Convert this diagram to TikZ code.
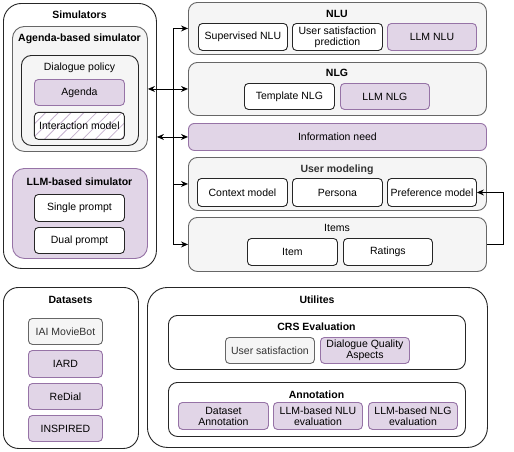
\documentclass[tikz,border=0pt]{standalone}
\usepackage{fontspec}
\setmainfont{Liberation Sans}
\usetikzlibrary{arrows.meta,patterns.meta,calc}
\definecolor{pfill}{HTML}{E1D5E7}
\definecolor{pdraw}{HTML}{9673A6}
\definecolor{gfill}{HTML}{F5F5F5}
\definecolor{gdraw}{HTML}{666666}
\tikzset{
 base/.style={draw, line width=0.9pt, inner sep=0pt, align=center, font=\fontsize{10.5}{12}\selectfont, anchor=north west},
 wbox/.style={base, fill=white, draw=black!85, rounded corners=4pt},
 pbox/.style={base, fill=pfill, draw=pdraw, rounded corners=4pt},
 gbox/.style={base, fill=gfill, draw=gdraw, text=black!80, rounded corners=4pt},
 hbox/.style={base, draw=black!85, rounded corners=4pt, preaction={fill=white},
   pattern={Lines[angle=45,distance=9pt,line width=0.8pt]}, pattern color=pdraw!55},
 title/.style={font=\bfseries\fontsize{10.5}{12}\selectfont, inner sep=0pt},
 arr/.style={line width=0.9pt, -{Stealth[length=7pt,width=6pt]}},
 darr/.style={line width=0.9pt, {Stealth[length=7pt,width=6pt]}-{Stealth[length=7pt,width=6pt]}},
}
\newcommand\bx[7]{\node[#6, minimum width={#4-#2}, minimum height={#5-#3}] (#1) at (#2,#3) {#7};}
\begin{document}
\begin{tikzpicture}[x=1pt,y=-1pt]
\useasboundingbox[fill=white] (0,0) rectangle (514,451);
% Simulators
\bx{sim}{3}{3}{156}{268}{wbox, rounded corners=18pt}{}
\node[title] (simT) at (79.5,15) {Simulators};
\bx{agsim}{12}{26}{147}{151}{gbox, rounded corners=12pt}{}
\node[title] (agsimT) at (79.5,39) {Agenda-based simulator};
\bx{dp}{21}{55}{138}{145}{base, fill=gfill, draw=black!85, rounded corners=10pt}{}
\node[font=\fontsize{10.5}{12}\selectfont, inner sep=0pt] (dpT) at (79.5,68) {Dialogue policy};
\bx{agenda}{34}{79}{124}{105}{pbox}{Agenda}
\bx{inter}{34}{112}{124}{139}{hbox}{Interaction model}
\bx{llmsim}{12}{168}{147}{258}{pbox, rounded corners=12pt}{}
\node[title] (llmsimT) at (79.5,182) {LLM-based simulator};
\bx{single}{34}{194}{124}{221}{wbox}{Single prompt}
\bx{dual}{34}{227}{124}{253}{wbox}{Dual prompt}
% NLU
\bx{nlu}{188}{2}{486}{54}{gbox, rounded corners=9pt}{}
\node[title] (nluT) at (337,14) {NLU};
\bx{supnlu}{198}{23}{287}{50}{wbox}{Supervised NLU}
\bx{usp}{292}{23}{382}{50}{wbox}{User satisfaction\\[-1pt]prediction}
\bx{llmnlu}{387}{23}{476}{50}{pbox}{LLM NLU}
% NLG
\bx{nlg}{188}{62}{486}{115}{gbox, rounded corners=9pt}{}
\node[title] (nlgT) at (337,73) {NLG};
\bx{tnlg}{244}{83}{334}{109}{wbox}{Template NLG}
\bx{llmnlg}{340}{83}{429}{109}{pbox}{LLM NLG}
% Information need
\bx{info}{188}{123}{486}{150}{pbox, rounded corners=6pt}{Information need}
% User modeling
\bx{um}{188}{157}{486}{210}{gbox, rounded corners=9pt}{}
\node[title, text=black!80] (umT) at (337,170) {User modeling};
\bx{ctx}{197}{178}{287}{206}{wbox}{Context model}
\bx{persona}{292}{178}{382}{206}{wbox}{Persona}
\bx{pref}{387}{178}{476}{206}{wbox}{Preference model}
% Items
\bx{items}{188}{217}{486}{271}{gbox, rounded corners=9pt}{}
\node[font=\fontsize{10.5}{12}\selectfont, inner sep=0pt] (itemsT) at (337,228) {Items};
\bx{item}{247}{238}{337}{265}{wbox}{Item}
\bx{ratings}{343}{238}{432}{265}{wbox}{Ratings}
% Datasets
\bx{ds}{3}{287}{138}{448}{wbox, rounded corners=15pt}{}
\node[title] (dsT) at (70.5,300) {Datasets};
\bx{iai}{28}{318}{102}{344}{gbox}{IAI MovieBot}
\bx{iard}{28}{350}{102}{377}{pbox}{IARD}
\bx{redial}{28}{383}{102}{409}{pbox}{ReDial}
\bx{inspired}{28}{415}{102}{441}{pbox}{INSPIRED}
% Utilities
\bx{ut}{147}{287}{487}{447}{wbox, rounded corners=20pt}{}
\node[title] (utT) at (317,300) {Utilites};
\bx{crs}{168}{315}{465}{369}{wbox, rounded corners=9pt}{}
\node[title] (crsT) at (316.5,327) {CRS Evaluation};
\bx{usat}{225}{337}{314}{363}{gbox}{User satisfaction}
\bx{dqa}{320}{337}{409}{363}{pbox}{Dialogue Quality\\[-1pt]Aspects}
\bx{ann}{168}{382}{465}{436}{wbox, rounded corners=9pt}{}
\node[title] (annT) at (316.5,395) {Annotation};
\bx{dsann}{178}{402}{268}{429}{pbox}{Dataset\\[-1pt]Annotation}
\bx{nlueval}{273}{402}{362}{429}{pbox}{LLM-based NLU\\[-1pt]evaluation}
\bx{nlgeval}{368}{402}{457}{429}{pbox}{LLM-based NLG\\[-1pt]evaluation}
% connectors
\coordinate (spine) at (173,88.5);
\draw[darr] (agsim.east) -- (nlg.west);
\draw[darr] (sim.east |- info.west) -- (info.west);
\draw[arr] (spine) |- (nlu.west);
\draw[line width=0.9pt] (spine) -- (spine |- info.west);
\draw[arr] (spine) |- (um.west);
\draw[arr] (spine) |- (items.west);
\draw[arr] (items.east) -- ++(17,0) |- (pref.east);
\end{tikzpicture}
\end{document}
